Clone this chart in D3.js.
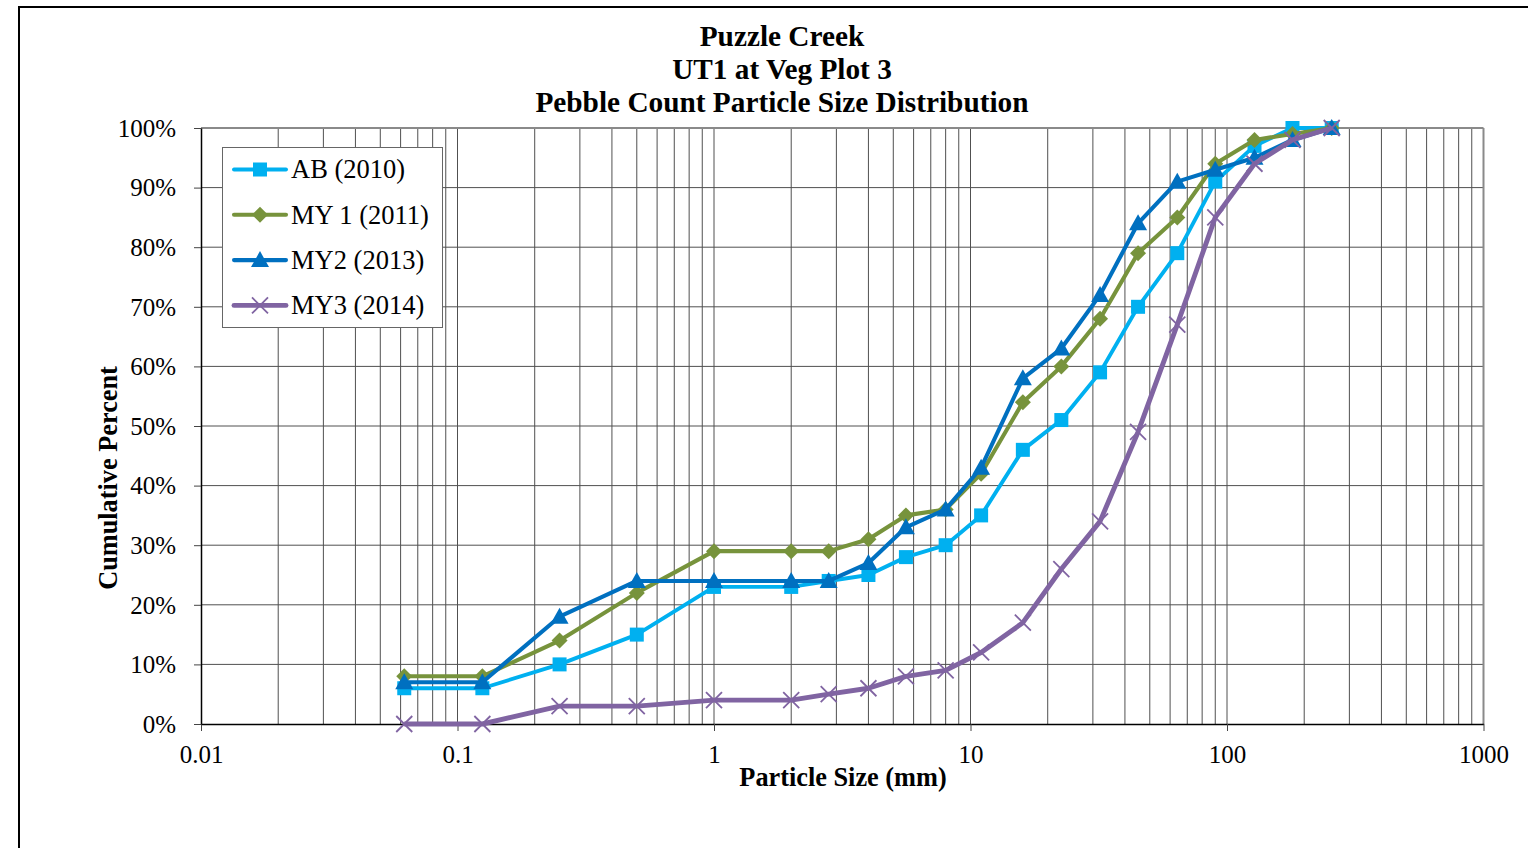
<!DOCTYPE html>
<html>
<head>
<meta charset="utf-8">
<script src="https://cdn.jsdelivr.net/npm/d3@7"></script>
<style>
html,body{margin:0;padding:0;background:#fff;}
svg{display:block;}
text{font-family:"Liberation Serif","Times New Roman",serif;fill:#000;}
</style>
</head>
<body>
<svg id="chart" width="1528" height="848"></svg>
<script>
const titleLines = ["Puzzle Creek", "UT1 at Veg Plot 3", "Pebble Count Particle Size Distribution"];
const xTitle = "Particle Size (mm)";
const yTitle = "Cumulative Percent";
const sizes = [0.062, 0.125, 0.25, 0.5, 1, 2, 2.8, 4, 5.6, 8, 11, 16, 22.6, 32, 45, 64, 90, 128, 180, 256];
const seriesNames = ["AB (2010)", "MY 1 (2011)", "MY2 (2013)", "MY3 (2014)"];
const ab2010 = [6, 6, 10, 15, 23, 23, 24, 25, 28, 30, 35, 46, 51, 59, 70, 79, 91, 97, 100, 100];
const my1_2011 = [8, 8, 14, 22, 29, 29, 29, 31, 35, 36, 42, 54, 60, 68, 79, 85, 94, 98, 99, 100];
const my2_2013 = [7, 7, 18, 24, 24, 24, 24, 27, 33, 36, 43, 58, 63, 72, 84, 91, 93, 95, 98, 100];
const my3_2014 = [0, 0, 3, 3, 4, 4, 5, 6, 8, 9, 12, 17, 26, 34, 49, 67, 85, 94, 98, 100];
const xTickLabels = ["0.01", "0.1", "1", "10", "100", "1000"];
const yTicks = [0, 10, 20, 30, 40, 50, 60, 70, 80, 90, 100];

const styles = [
  {color: "#00B0F0", marker: "square", width: 3.9},
  {color: "#77933C", marker: "diamond", width: 4.1},
  {color: "#0070C0", marker: "triangle", width: 4.1},
  {color: "#8064A2", marker: "x", width: 4.9}
];
const allValues = [ab2010, my1_2011, my2_2013, my3_2014];

const svg = d3.select("#chart");
const L = 201, R = 1483.5, T = 128, B = 724;

// outer chart border
svg.append("rect").attr("x", 19).attr("y", 7).attr("width", 1540).attr("height", 900)
  .attr("fill", "none").attr("stroke", "#000").attr("stroke-width", 2);

const x = d3.scaleLog().domain([0.01, 1000]).range([L, R]);
const y = d3.scaleLinear().domain([0, 100]).range([B, T]);

// minor + major vertical gridlines
const gridX = [];
for (let e = -2; e < 3; e++) {
  for (let m = 1; m <= 9; m++) gridX.push(m * Math.pow(10, e));
}
const g = svg.append("g");
g.selectAll("line.vx").data(gridX.filter(v => v > 0.01 && v < 1000)).join("line")
  .attr("x1", d => x(d)).attr("x2", d => x(d)).attr("y1", T).attr("y2", B)
  .attr("stroke", "#505050").attr("stroke-width", 1);
g.selectAll("line.hy").data(yTicks.filter(v => v > 0 && v < 100)).join("line")
  .attr("x1", L).attr("x2", R).attr("y1", d => y(d)).attr("y2", d => y(d))
  .attr("stroke", "#505050").attr("stroke-width", 1);

// plot border top/right
svg.append("line").attr("x1", L).attr("x2", R).attr("y1", T).attr("y2", T).attr("stroke", "#8a8a8a").attr("stroke-width", 2);
svg.append("line").attr("x1", R).attr("x2", R).attr("y1", T).attr("y2", B).attr("stroke", "#8a8a8a").attr("stroke-width", 2);

// axes
const decades = [0.01, 0.1, 1, 10, 100, 1000];
const xAxis = d3.axisBottom(x).tickValues(decades).tickFormat((d, i) => xTickLabels[i]).tickSize(7).tickSizeOuter(0);
const xg = svg.append("g").attr("transform", `translate(0,${B})`).call(xAxis);
xg.select(".domain").attr("stroke", "#000").attr("stroke-width", 1.5);
xg.selectAll(".tick line").attr("stroke", "#444");
xg.selectAll(".tick text").attr("font-size", 25).attr("dy", 0).attr("y", 39)
  .attr("font-family", "Liberation Serif");

const yAxis = d3.axisLeft(y).tickValues(yTicks).tickFormat(d => d + "%").tickSize(7).tickSizeOuter(0);
const yg = svg.append("g").attr("transform", `translate(${L},0)`).call(yAxis);
yg.select(".domain").attr("stroke", "#000").attr("stroke-width", 1.5);
yg.selectAll(".tick line").attr("stroke", "#444");
yg.selectAll(".tick text").attr("font-size", 25).attr("x", -25).attr("dy", "0.33em")
  .attr("font-family", "Liberation Serif");

// titles
svg.append("g").selectAll("text").data(titleLines).join("text")
  .attr("x", 782).attr("y", (d, i) => 45.5 + i * 33.3)
  .attr("text-anchor", "middle").attr("font-size", 29.3).attr("font-weight", "bold").text(d => d);
svg.append("text").attr("x", 843).attr("y", 786).attr("text-anchor", "middle")
  .attr("font-size", 26.3).attr("font-weight", "bold").text(xTitle);
svg.append("text").attr("transform", "translate(117,478) rotate(-90)").attr("text-anchor", "middle")
  .attr("font-size", 26.3).attr("font-weight", "bold").text(yTitle);

function drawMarker(sel, type, color) {
  if (type === "square") {
    sel.append("rect").attr("x", -7).attr("y", -7).attr("width", 14).attr("height", 14).attr("fill", color);
  } else if (type === "diamond") {
    sel.append("path").attr("d", "M0,-8L8,0L0,8L-8,0Z").attr("fill", color);
  } else if (type === "triangle") {
    sel.append("path").attr("d", "M0,-9L9,7L-9,7Z").attr("fill", color);
  } else {
    sel.append("path").attr("d", "M-8,-8L8,8M-8,8L8,-8").attr("stroke", color).attr("stroke-width", 1.8).attr("fill", "none");
  }
}

const line = d3.line().x(d => x(d[0])).y(d => y(d[1]));
allValues.forEach((vals, si) => {
  const st = styles[si];
  const pts = sizes.map((s, i) => [s, vals[i]]);
  const sg = svg.append("g");
  sg.append("path").datum(pts).attr("d", line).attr("fill", "none")
    .attr("stroke", st.color).attr("stroke-width", st.width).attr("stroke-linejoin", "round");
  sg.selectAll("g.m").data(pts).join("g").attr("transform", d => `translate(${x(d[0])},${y(d[1])})`)
    .each(function () { drawMarker(d3.select(this), st.marker, st.color); });
});

// legend
const lg = svg.append("g");
lg.append("rect").attr("x", 222.5).attr("y", 147.5).attr("width", 220).attr("height", 180)
  .attr("fill", "#fff").attr("stroke", "#666").attr("stroke-width", 1);
seriesNames.forEach((name, i) => {
  const yy = 169.5 + i * 45.3;
  const st = styles[i];
  lg.append("line").attr("x1", 234).attr("x2", 286).attr("y1", yy).attr("y2", yy)
    .attr("stroke", st.color).attr("stroke-width", st.width).attr("stroke-linecap", "round");
  const mg = lg.append("g").attr("transform", `translate(260,${yy})`);
  drawMarker(mg, st.marker, st.color);
  lg.append("text").attr("x", 291).attr("y", yy).attr("dy", "0.33em").attr("font-size", 26.5).text(name);
});
</script>
</body>
</html>
